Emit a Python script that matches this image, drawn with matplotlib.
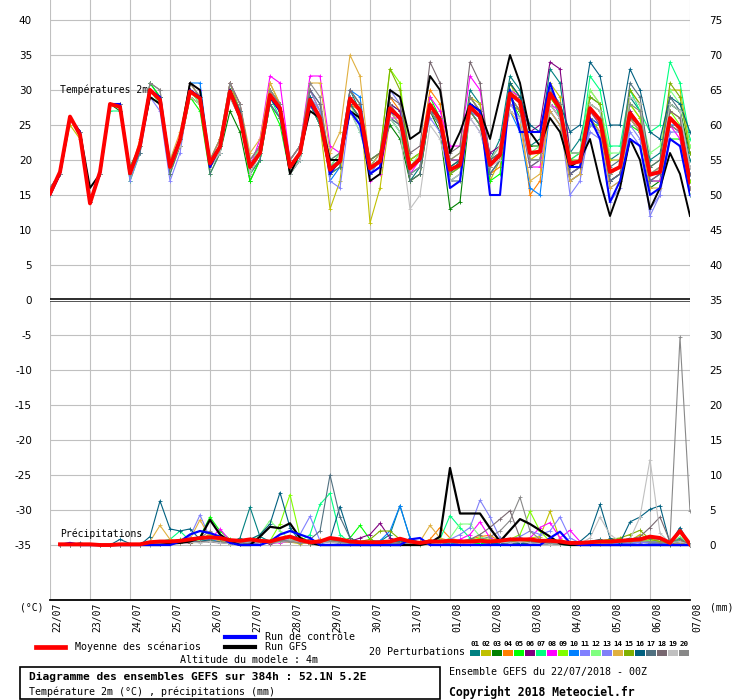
import numpy as np
import matplotlib
matplotlib.use('Agg')
import matplotlib.pyplot as plt
from matplotlib.patches import Rectangle
from matplotlib.lines import Line2D
from matplotlib.transforms import ScaledTranslation

# ---------------- data ----------------
hours = list(range(0, 385, 6))            # 65 steps, temperature
precip_hours = list(range(6, 385, 6))     # 64 steps, precipitation
day_hours = list(range(0, 385, 24))
day_labels = ['22/07', '23/07', '24/07', '25/07', '26/07', '27/07', '28/07', '29/07', '30/07',
              '31/07', '01/08', '02/08', '03/08', '04/08', '05/08', '06/08', '07/08']

member_names = ['01', '02', '03', '04', '05', '06', '07', '08', '09', '10',
                '11', '12', '13', '14', '15', '16', '17', '18', '19', '20']
member_colors = ['#008080', '#c0c000', '#008000', '#ff8000', '#00ff00', '#800080', '#00ff80',
                 '#ff00ff', '#80ff00', '#0080ff', '#8080ff', '#80ff80', '#8080f8', '#e0b040',
                 '#80b000', '#006080', '#507080', '#786870', '#c0c0c0', '#888888']

temp_mean = [15.2, 18.3, 26.2, 23.6, 13.8, 18.3, 28.0, 27.6, 18.1, 22.1, 30.0, 28.6, 19.0, 22.9, 29.8, 28.8,
             19.5, 21.9, 29.8, 26.2, 19.0, 21.0, 29.3, 27.4, 19.0, 21.0, 28.6, 26.0, 18.6, 19.8, 28.8, 27.1,
             18.8, 19.8, 27.4, 26.0, 18.8, 20.2, 27.9, 25.7, 18.6, 19.3, 27.6, 26.2, 19.3, 20.7, 29.5, 28.3,
             21.0, 21.2, 29.5, 27.4, 19.5, 19.8, 27.4, 25.7, 18.3, 19.0, 26.7, 24.8, 17.9, 18.3, 26.0, 24.5,
             16.8]
temp_control = [15, 18, 26, 24, 14, 18, 28, 28, 18, 22, 30, 29, 19, 23, 30, 29, 19, 22, 30, 26, 19, 21, 29, 27,
                19, 21, 28, 26, 18, 20, 27, 25, 18, 19, 27, 26, 19, 20, 28, 26, 16, 17, 28, 27, 15, 15, 30, 24,
                24, 24, 31, 27, 19, 19, 26, 23, 14, 17, 23, 22, 15, 16, 23, 22, 15]
temp_gfs = [15, 18, 26, 24, 16, 18, 28, 28, 18, 22, 29, 28, 19, 23, 31, 30, 19, 22, 30, 26, 19, 21, 29, 27,
            18, 21, 27, 26, 20, 20, 27, 26, 17, 18, 30, 29, 23, 24, 32, 30, 21, 24, 28, 27, 23, 29, 35, 31,
            24, 22, 26, 24, 19, 20, 23, 17, 12, 16, 23, 20, 13, 16, 21, 18, 12]

temp_m01 = [15, 18, 26, 24, 14, 18, 28, 28, 18, 22, 31, 29, 20, 23, 29, 28, 19, 22, 31, 27, 19, 22, 30, 28, 20, 22, 28, 25, 19, 21, 30, 27, 18, 20, 28, 27, 17, 19, 27, 26, 18, 20, 30, 28, 20, 23, 32, 30, 22, 23, 33, 31, 21, 23, 29, 28, 20, 21, 29, 27, 20, 21, 28, 27, 20]
temp_m02 = [16, 18, 25, 23, 14, 18, 28, 28, 18, 22, 30, 28, 19, 22, 30, 29, 20, 23, 31, 27, 19, 21, 31, 28, 18, 20, 29, 25, 13, 17, 30, 28, 11, 16, 26, 25, 17, 18, 27, 25, 20, 21, 29, 28, 17, 20, 31, 28, 20, 21, 31, 29, 18, 19, 30, 28, 20, 20, 30, 28, 18, 19, 30, 30, 22]
temp_m03 = [15, 18, 26, 24, 14, 18, 28, 27, 19, 22, 29, 28, 19, 22, 29, 28, 19, 21, 27, 24, 17, 20, 28, 26, 19, 21, 28, 25, 18, 20, 28, 26, 20, 21, 25, 23, 17, 18, 27, 24, 13, 14, 27, 25, 18, 20, 29, 27, 22, 22, 30, 26, 17, 18, 26, 24, 17, 18, 26, 24, 16, 17, 28, 27, 21]
temp_m04 = [16, 18, 26, 24, 14, 18, 28, 28, 18, 23, 30, 29, 19, 23, 31, 29, 20, 23, 30, 27, 20, 22, 30, 28, 19, 21, 30, 27, 18, 20, 28, 27, 19, 20, 29, 27, 20, 21, 30, 28, 19, 20, 27, 25, 18, 19, 28, 27, 15, 17, 28, 26, 20, 21, 27, 26, 18, 19, 28, 26, 17, 18, 25, 24, 16]
temp_m05 = [16, 18, 26, 24, 14, 18, 28, 28, 17, 21, 31, 29, 19, 22, 29, 27, 18, 21, 30, 27, 17, 20, 28, 25, 18, 20, 29, 26, 18, 19, 28, 26, 20, 21, 26, 24, 18, 19, 29, 26, 17, 18, 27, 25, 17, 18, 29, 26, 20, 20, 29, 27, 18, 19, 25, 25, 17, 18, 25, 24, 17, 17, 23, 23, 15]
temp_m06 = [16, 18, 26, 24, 14, 18, 28, 28, 18, 22, 30, 29, 19, 23, 30, 29, 20, 22, 30, 27, 19, 21, 29, 27, 19, 21, 28, 26, 19, 20, 29, 27, 19, 20, 28, 27, 20, 21, 28, 26, 20, 20, 29, 27, 21, 22, 31, 29, 24, 25, 34, 33, 21, 21, 26, 25, 17, 18, 27, 25, 18, 18, 25, 24, 17]
temp_m07 = [15, 18, 26, 24, 14, 18, 27, 27, 19, 22, 30, 28, 19, 22, 30, 28, 19, 21, 29, 26, 18, 20, 29, 26, 19, 20, 28, 25, 20, 21, 27, 24, 19, 20, 26, 24, 19, 20, 27, 25, 18, 19, 27, 25, 19, 21, 30, 28, 21, 21, 30, 26, 20, 21, 32, 30, 22, 22, 30, 27, 24, 25, 34, 31, 23]
temp_m08 = [16, 18, 26, 24, 14, 18, 28, 28, 18, 22, 30, 29, 19, 23, 31, 30, 20, 22, 31, 28, 19, 23, 32, 31, 20, 22, 32, 32, 22, 21, 29, 27, 17, 18, 26, 26, 18, 20, 29, 27, 22, 22, 32, 30, 20, 22, 30, 29, 19, 19, 28, 27, 18, 19, 27, 25, 18, 19, 26, 24, 17, 17, 25, 23, 16]
temp_m09 = [15, 18, 26, 24, 14, 18, 28, 28, 18, 22, 30, 29, 18, 22, 29, 28, 19, 22, 30, 26, 19, 21, 29, 27, 18, 21, 28, 26, 18, 20, 30, 28, 19, 21, 33, 31, 20, 21, 28, 25, 18, 19, 28, 26, 19, 21, 31, 29, 21, 21, 29, 27, 19, 20, 28, 27, 18, 19, 28, 26, 18, 19, 27, 25, 17]
temp_m10 = [15, 18, 26, 24, 14, 18, 28, 28, 18, 22, 30, 29, 19, 23, 31, 31, 20, 22, 30, 27, 19, 21, 29, 27, 19, 21, 30, 28, 17, 19, 30, 29, 19, 21, 27, 25, 19, 20, 28, 26, 19, 20, 27, 26, 20, 21, 27, 24, 16, 15, 27, 25, 18, 19, 26, 25, 17, 18, 26, 24, 17, 18, 25, 25, 18]
temp_m11 = [16, 18, 26, 24, 14, 18, 28, 28, 17, 21, 29, 27, 17, 21, 30, 29, 20, 22, 29, 26, 19, 21, 28, 26, 18, 20, 30, 27, 17, 16, 27, 26, 18, 19, 26, 25, 19, 20, 26, 24, 18, 19, 26, 24, 19, 21, 29, 27, 20, 20, 28, 26, 15, 17, 25, 24, 16, 17, 24, 22, 13, 15, 23, 22, 15]
temp_m12 = [15, 18, 26, 24, 14, 18, 28, 28, 18, 22, 30, 28, 19, 23, 30, 28, 19, 22, 30, 27, 19, 22, 30, 28, 19, 21, 29, 27, 19, 21, 28, 25, 20, 21, 27, 26, 19, 21, 28, 26, 19, 20, 28, 26, 20, 22, 30, 28, 21, 22, 30, 28, 21, 21, 30, 28, 21, 21, 28, 27, 21, 22, 30, 28, 22]
temp_m13 = [16, 18, 26, 24, 14, 18, 28, 28, 18, 22, 29, 28, 19, 22, 30, 29, 19, 21, 29, 27, 19, 21, 29, 27, 19, 21, 29, 27, 18, 20, 30, 28, 18, 20, 30, 28, 18, 19, 27, 25, 17, 18, 27, 26, 18, 20, 28, 26, 19, 20, 27, 25, 17, 18, 24, 23, 14, 16, 25, 23, 12, 15, 24, 24, 16]
temp_m14 = [16, 18, 26, 24, 14, 18, 28, 28, 18, 22, 30, 29, 20, 24, 31, 29, 20, 23, 31, 28, 21, 23, 31, 28, 20, 22, 31, 31, 21, 24, 35, 32, 19, 21, 27, 25, 19, 20, 28, 25, 19, 20, 27, 25, 20, 21, 27, 25, 17, 18, 27, 25, 17, 18, 26, 24, 16, 17, 26, 24, 16, 16, 27, 26, 16]
temp_m15 = [15, 18, 26, 24, 14, 18, 28, 28, 18, 22, 30, 29, 19, 22, 29, 28, 19, 22, 29, 26, 18, 21, 29, 27, 19, 21, 28, 26, 19, 20, 29, 27, 20, 21, 33, 30, 19, 20, 28, 26, 18, 19, 29, 27, 19, 21, 29, 27, 21, 21, 29, 27, 20, 20, 29, 28, 18, 19, 30, 28, 19, 20, 31, 29, 21]
temp_m16 = [15, 18, 26, 24, 14, 18, 28, 28, 18, 22, 30, 29, 19, 23, 30, 29, 19, 22, 30, 27, 19, 21, 29, 27, 19, 21, 29, 26, 19, 20, 28, 26, 19, 20, 27, 26, 19, 20, 27, 25, 19, 20, 28, 26, 20, 21, 31, 29, 25, 24, 30, 28, 24, 25, 34, 32, 25, 25, 33, 30, 24, 23, 29, 28, 24]
temp_m17 = [15, 18, 26, 24, 14, 18, 28, 28, 18, 21, 30, 29, 18, 22, 30, 29, 18, 21, 29, 26, 18, 20, 28, 26, 18, 20, 28, 25, 18, 19, 28, 26, 18, 19, 26, 25, 17, 18, 27, 25, 17, 17, 27, 25, 18, 20, 29, 27, 20, 20, 30, 28, 19, 20, 28, 27, 19, 20, 31, 29, 19, 20, 29, 27, 19]
temp_m18 = [16, 18, 26, 24, 14, 18, 28, 28, 18, 22, 31, 30, 19, 23, 30, 29, 20, 22, 31, 28, 20, 22, 30, 28, 20, 22, 30, 28, 20, 21, 30, 28, 20, 21, 29, 28, 21, 22, 34, 31, 21, 22, 34, 31, 20, 21, 29, 27, 19, 20, 28, 26, 18, 19, 27, 25, 17, 18, 26, 25, 17, 18, 27, 26, 18]
temp_m19 = [15, 18, 26, 24, 14, 18, 28, 28, 18, 22, 29, 28, 19, 22, 29, 28, 19, 21, 29, 26, 18, 21, 29, 27, 18, 20, 28, 26, 19, 20, 27, 24, 19, 20, 26, 24, 13, 15, 25, 23, 17, 18, 26, 24, 19, 20, 27, 26, 20, 20, 28, 26, 19, 20, 28, 27, 18, 19, 29, 28, 18, 19, 28, 27, 19]
temp_m20 = [16, 18, 26, 24, 14, 18, 28, 28, 18, 22, 31, 30, 19, 23, 31, 29, 20, 23, 31, 28, 20, 22, 30, 28, 20, 22, 31, 29, 19, 20, 29, 27, 19, 20, 28, 26, 18, 19, 27, 25, 20, 21, 29, 27, 19, 21, 29, 27, 20, 20, 30, 28, 19, 20, 27, 26, 18, 19, 28, 27, 18, 19, 25, 24, 16]

# precipitation in mm (6h), steps 06h .. 384h
precip_mean = [0.1, 0.1, 0.1, 0.1, 0, 0, 0.1, 0.1, 0.1, 0.4, 0.5, 0.5, 0.6, 0.8, 1.0, 1.1,
               1.0, 0.7, 0.6, 0.8, 0.6, 0.5, 0.9, 1.2, 0.7, 0.4, 0.5, 1.0, 0.8, 0.5, 0.4, 0.4,
               0.4, 0.5, 0.9, 0.5, 0.3, 0.5, 0.5, 0.6, 0.5, 0.5, 0.6, 0.5, 0.6, 0.8, 0.8, 0.8,
               0.6, 0.6, 0.5, 0.3, 0.3, 0.4, 0.5, 0.5, 0.6, 0.7, 0.8, 1.2, 1.0, 0.3, 2.0, 0.1]
precip_control = [0, 0.3, 0, 0, 0, 0, 0, 0, 0, 0, 0, 0, 0.5, 1.5, 2.0, 1.7,
                  1.2, 0.3, 0, 0, 0, 0.5, 1.5, 2.0, 1.5, 1.0, 0, 0, 0, 0, 0, 0,
                  0, 0, 0, 0.8, 1.0, 0, 0, 0, 0, 0, 0, 0, 0, 0, 0, 0,
                  0, 1.0, 1.9, 0.3, 0, 0, 0, 0, 0, 0, 0, 0, 0, 0, 0, 0]
precip_gfs = [0, 0, 0, 0, 0, 0, 0, 0, 0, 0, 0, 0.2, 0.3, 0.5, 1.0, 3.6,
              1.5, 0.5, 0, 0, 1.2, 2.6, 2.4, 3.1, 1.0, 0.3, 0, 0, 0, 0, 0, 0,
              0, 0, 0, 0, 0, 0.3, 1.2, 11.0, 4.5, 4.5, 4.5, 2.4, 0.5, 2.1, 3.7, 3.0,
              2.1, 1.2, 0.2, 0, 0, 0, 0, 0, 0, 0, 0, 0, 0, 0, 0, 0]

precip_m01 = [0, 0, 0, 0, 0, 0, 0, 0, 0, 0.3, 0.5, 0.3, 0.5, 0.8, 0.4, 0.6, 0.5, 0.3, 1.0, 5.4, 1.2, 0.5, 0.8, 0.5, 0.3, 0.2, 0.5, 0.8, 0.3, 0.2, 0.1, 0.2, 0.5, 1.5, 5.6, 1.0, 0.2, 0.3, 0, 0.2, 0.3, 0.2, 0.5, 0.3, 0.2, 0.5, 0.3, 0.2, 0.3, 0.2, 0.1, 0, 0.2, 0.5, 0.8, 0.3, 0.5, 1.0, 0.6, 0.4, 0.5, 0.2, 1.0, 0]
precip_m02 = [0, 0, 0, 0, 0, 0, 0, 0, 0, 0.1, 0.2, 0.3, 0.5, 0.3, 0.6, 0.8, 0.4, 0.2, 0.3, 0.5, 0.3, 0.5, 0.6, 0.4, 0.2, 0.3, 0.4, 0.6, 0.3, 0.2, 0.3, 0.4, 0.5, 0.3, 0.2, 0.1, 0, 0.2, 0.4, 0.3, 0.2, 0.5, 0.6, 0.3, 0.4, 0.5, 0.8, 1.0, 1.2, 4.8, 0.8, 0.2, 0.1, 0.2, 0.3, 0.5, 0.4, 0.6, 1.5, 0.8, 0.3, 0.1, 0.5, 0]
precip_m03 = [0, 0, 0, 0, 0, 0, 0, 0, 0, 0.2, 0.3, 0.4, 0.4, 0.6, 0.8, 1.0, 0.8, 0.4, 0.3, 0.5, 0.4, 0.3, 0.7, 1.2, 0.5, 0.2, 0.3, 0.5, 0.6, 0.3, 0.2, 0.1, 0.2, 0.3, 0.5, 0.2, 0.1, 0.2, 0.3, 0.6, 0.5, 0.4, 0.3, 0.5, 1.0, 0.6, 0.4, 0.3, 0.2, 0.3, 0.1, 0, 0.1, 0.3, 0.5, 0.4, 0.6, 0.5, 0.4, 0.3, 0.2, 0, 0.3, 0]
precip_m04 = [0, 0, 0, 0, 0, 0, 0, 0, 0, 0.2, 0.4, 0.3, 0.3, 0.5, 0.8, 1.5, 0.6, 0.3, 0.2, 0.4, 0.3, 0.4, 0.5, 0.6, 0.4, 0.3, 0.8, 0.5, 0.3, 0.2, 0.3, 0.4, 0.2, 0.3, 0.4, 0.3, 0.2, 0.8, 2.5, 1.0, 0.6, 0.8, 1.2, 1.4, 0.5, 0.3, 0.4, 0.2, 0.3, 0.4, 0.2, 0.1, 0.2, 0.1, 0.3, 0.2, 0.3, 0.4, 0.6, 1.0, 0.5, 0.2, 0.4, 0]
precip_m05 = [0, 0, 0, 0, 0, 0, 0, 0, 0, 0.1, 0.3, 0.5, 0.8, 0.6, 1.2, 4.0, 2.0, 0.8, 0.4, 0.5, 0.3, 0.4, 0.6, 0.5, 0.3, 0.2, 0.4, 0.6, 0.5, 1.0, 2.8, 0.8, 0.3, 0.2, 0.4, 0.3, 0.2, 0.3, 0.2, 0.5, 0.4, 0.3, 0.2, 0.3, 0.2, 0.3, 0.5, 0.4, 0.2, 0.3, 0.2, 0.1, 0.2, 0.3, 0.5, 0.4, 0.3, 0.5, 0.8, 0.6, 0.5, 0.1, 0.6, 0]
precip_m06 = [0, 0, 0, 0, 0, 0, 0, 0, 0, 0.1, 0.2, 0.3, 0.3, 0.5, 0.6, 0.5, 0.8, 0.5, 0.3, 0.2, 0.3, 0.2, 0.4, 0.6, 0.3, 0.2, 0.3, 0.5, 0.3, 0.5, 1.0, 1.5, 3.1, 1.0, 0.5, 0.3, 0.2, 0.1, 0.2, 0.3, 0.2, 0.3, 0.4, 0.2, 0.3, 0.2, 0.4, 0.3, 0.2, 0.1, 0.2, 0.1, 0.1, 0.2, 0.3, 0.2, 0.2, 0.3, 0.4, 0.5, 0.3, 0.1, 0.2, 0]
precip_m07 = [0, 0, 0, 0, 0, 0, 0, 0, 0, 0.2, 0.5, 0.8, 2.0, 0.6, 0.4, 0.8, 0.5, 0.3, 0.4, 0.3, 0.2, 0.5, 0.6, 0.4, 0.5, 1.5, 5.8, 7.4, 1.5, 0.3, 0.2, 0.4, 0.3, 0.2, 0.3, 0.2, 0.1, 0.3, 0.8, 4.2, 2.5, 1.0, 0.6, 0.4, 0.3, 0.2, 0.5, 0.4, 0.3, 0.2, 0.1, 0, 0.1, 0.2, 0.4, 0.3, 0.4, 0.3, 0.5, 0.6, 0.4, 0.2, 0.8, 0]
precip_m08 = [0, 0, 0, 0, 0, 0, 0, 0, 0, 0.1, 0.2, 0.3, 0.4, 0.3, 0.5, 0.8, 2.3, 0.6, 0.3, 0.2, 0.2, 0.4, 0.3, 0.5, 1.0, 0.4, 0.3, 0.6, 0.3, 0.2, 0.3, 0.2, 0.2, 0.4, 0.3, 0.2, 0.1, 0.2, 0.5, 0.3, 0.8, 1.5, 3.3, 1.0, 0.5, 0.3, 0.6, 1.0, 2.5, 3.2, 1.0, 2.1, 0.5, 0.3, 0.2, 0.3, 0.4, 0.3, 0.5, 0.4, 0.3, 0.1, 0.6, 0]
precip_m09 = [0, 0, 0, 0, 0, 0, 0, 0, 0, 0.1, 0.2, 0.4, 0.3, 0.5, 0.8, 1.5, 0.8, 0.4, 0.3, 0.2, 0.3, 0.6, 3.0, 7.2, 1.2, 0.3, 0.5, 0.4, 0.3, 0.2, 0.3, 0.2, 0.2, 0.3, 0.4, 0.2, 0.1, 0.2, 0.3, 0.5, 0.4, 0.6, 1.0, 0.8, 0.6, 0.8, 1.5, 4.8, 2.0, 0.5, 0.2, 0.1, 0.2, 0.3, 0.2, 0.3, 0.4, 0.5, 0.8, 0.5, 0.3, 0.1, 0.4, 0]
precip_m10 = [0, 0, 0, 0, 0, 0, 0, 0, 0, 0, 0.2, 0.3, 0.4, 0.6, 0.5, 0.8, 0.5, 0.3, 0.2, 0.4, 0.3, 0.5, 0.8, 0.6, 0.4, 0.3, 0.2, 0.5, 0.3, 0.2, 0.3, 0.5, 0.6, 2.0, 5.6, 1.0, 0.3, 0.2, 0.3, 0.2, 0.3, 0.2, 0.4, 0.3, 0.2, 0.3, 0.4, 0.6, 0.5, 0.3, 0.2, 0.1, 0.1, 0.2, 0.3, 0.2, 0.3, 0.2, 0.4, 0.5, 0.3, 0.1, 0.3, 0]
precip_m11 = [0, 0, 0, 0, 0, 0, 0, 0, 0, 0.1, 0.3, 0.2, 0.4, 0.5, 0.6, 0.5, 0.3, 0.4, 0.2, 0.3, 0.2, 0.4, 0.5, 0.8, 1.5, 4.1, 0.6, 0.4, 0.3, 0.2, 0.3, 0.4, 0.3, 0.2, 0.4, 0.3, 0.2, 0.3, 0.2, 0.4, 0.3, 0.4, 0.6, 0.5, 0.4, 0.8, 1.2, 2.0, 1.5, 2.0, 4.0, 1.0, 0.3, 0.2, 0.3, 0.2, 0.3, 0.4, 0.3, 0.5, 0.4, 0.1, 0.3, 0]
precip_m12 = [0, 0, 0, 0, 0, 0, 0, 0, 0, 0.2, 0.3, 0.2, 0.4, 0.8, 0.6, 0.5, 0.4, 0.3, 0.5, 0.6, 1.5, 3.5, 2.0, 0.8, 0.4, 0.3, 0.5, 0.6, 0.4, 0.3, 0.2, 0.3, 0.2, 0.3, 0.4, 0.3, 0.2, 0.3, 0.4, 1.0, 3.0, 3.0, 1.2, 0.6, 0.4, 0.5, 0.6, 0.4, 0.3, 0.2, 0.2, 0.1, 0.2, 0.4, 0.6, 0.8, 0.6, 0.5, 0.4, 0.6, 0.8, 0.2, 1.2, 0]
precip_m13 = [0, 0, 0, 0, 0, 0, 0, 0, 0, 0.2, 0.3, 0.2, 0.4, 1.2, 4.3, 1.0, 0.5, 0.3, 0.2, 0.3, 0.2, 0.3, 0.4, 0.5, 0.3, 0.2, 0.5, 0.4, 0.3, 0.2, 0.3, 0.2, 0.2, 0.3, 0.2, 0.3, 0.2, 0.1, 0.3, 0.8, 1.5, 2.5, 6.4, 4.0, 1.0, 0.5, 0.6, 0.8, 0.5, 0.4, 0.3, 0.2, 0.1, 0.2, 0.3, 0.2, 0.3, 0.2, 0.4, 0.3, 0.2, 0.1, 0.3, 0]
precip_m14 = [0, 0, 0, 0, 0, 0, 0, 0, 0, 0.5, 2.8, 0.8, 0.5, 0.8, 3.6, 1.0, 0.6, 0.3, 0.2, 0.3, 0.4, 0.3, 0.5, 0.4, 0.3, 0.2, 0.4, 0.5, 0.3, 0.2, 0.3, 0.2, 0.2, 0.3, 0.4, 0.3, 0.5, 2.8, 1.0, 0.6, 0.5, 0.4, 0.8, 0.6, 0.4, 0.3, 0.5, 0.4, 0.3, 0.2, 0.3, 0.1, 0.2, 0.3, 0.2, 0.3, 0.4, 0.5, 0.6, 0.8, 0.5, 0.2, 0.3, 0]
precip_m15 = [0, 0, 0, 0, 0, 0, 0, 0, 0, 0.1, 0.2, 0.3, 0.5, 0.3, 0.4, 0.6, 0.4, 0.2, 0.3, 0.5, 0.4, 0.3, 0.5, 0.6, 0.5, 0.3, 0.4, 0.6, 0.4, 0.3, 0.5, 0.8, 2.0, 2.0, 0.8, 0.4, 0.2, 0.3, 0.2, 0.4, 0.3, 0.2, 0.4, 0.5, 0.3, 0.4, 0.6, 0.5, 0.4, 0.3, 0.2, 0.1, 0.3, 0.4, 0.6, 0.8, 1.0, 1.5, 2.1, 0.8, 0.5, 0.2, 0.6, 0]
precip_m16 = [0, 0, 0.3, 0, 0, 0, 0.8, 0.2, 0, 1.2, 6.3, 2.3, 2.0, 2.3, 0.8, 0.5, 0.4, 0.3, 0.5, 0.8, 1.5, 3.0, 7.5, 2.5, 0.5, 0.3, 0.4, 0.8, 5.5, 1.0, 0.3, 0.2, 0.3, 0.4, 0.6, 0.3, 0.2, 0.3, 0.2, 0.4, 0.3, 0.4, 0.5, 0.3, 0.2, 0.3, 0.2, 0.3, 0.2, 0.1, 0.2, 0.3, 0.5, 1.7, 5.8, 1.0, 0.3, 3.3, 4.0, 5.1, 5.6, 0.2, 2.5, 0]
precip_m17 = [0, 0, 0, 0, 0, 0, 0, 0, 0, 0.1, 0.3, 0.2, 0.3, 0.5, 0.4, 0.6, 0.4, 0.3, 0.2, 0.3, 0.4, 0.3, 0.5, 0.6, 0.5, 0.8, 2.0, 10.0, 4.0, 1.0, 0.3, 0.2, 0.3, 0.2, 0.4, 0.3, 0.2, 0.3, 0.2, 0.3, 0.2, 0.3, 0.4, 0.5, 0.3, 0.2, 0.4, 0.3, 0.2, 0.3, 0.2, 0.1, 0.2, 0.3, 0.5, 0.4, 0.5, 0.6, 0.8, 1.0, 0.8, 0.2, 0.5, 0]
precip_m18 = [0, 0, 0, 0, 0, 0, 0, 0, 0, 0.1, 0.2, 0.3, 0.4, 0.3, 0.5, 0.4, 0.3, 0.2, 0.4, 0.3, 0.3, 0.4, 0.5, 0.6, 0.4, 0.3, 0.5, 0.8, 0.5, 0.3, 0.2, 0.3, 0.2, 0.3, 0.4, 0.2, 0.3, 0.2, 0.4, 0.6, 0.5, 0.8, 1.5, 2.5, 3.7, 4.9, 1.0, 0.5, 0.3, 0.2, 0.1, 0.2, 0.2, 0.3, 0.4, 0.5, 0.6, 0.8, 1.2, 2.5, 4.0, 0.5, 0.8, 0]
precip_m19 = [0, 0, 0, 0, 0, 0, 0, 0, 0, 0, 0.1, 0.2, 0.3, 0.4, 0.3, 0.5, 0.3, 0.2, 0.3, 0.4, 0.3, 0.5, 0.4, 0.6, 0.5, 0.4, 0.3, 0.5, 0.3, 0.2, 0.3, 0.2, 0.2, 0.3, 0.2, 0.3, 0.2, 0.1, 0.3, 0.4, 0.3, 0.2, 0.5, 0.6, 0.4, 0.3, 0.5, 0.3, 0.2, 0.1, 0.2, 0.1, 0.2, 1.0, 4.0, 1.5, 0.5, 0.8, 4.0, 12.2, 1.7, 0.3, 0.5, 0]
precip_m20 = [0, 0, 0, 0, 0, 0, 0, 0, 0, 0.1, 0.3, 0.4, 0.5, 0.8, 1.0, 2.0, 0.8, 0.4, 0.3, 0.5, 0.4, 0.3, 0.6, 0.5, 0.3, 0.4, 0.5, 0.6, 0.4, 0.3, 0.2, 0.3, 0.2, 0.3, 0.2, 0.4, 0.3, 0.2, 0.4, 0.5, 0.4, 0.6, 0.8, 1.2, 2.0, 3.5, 6.8, 2.0, 0.8, 0.4, 0.2, 0.1, 0.2, 0.3, 0.4, 0.3, 0.4, 0.5, 0.6, 0.5, 0.3, 0.7, 29.7, 4.8]

temp_members = [temp_m01, temp_m02, temp_m03, temp_m04, temp_m05, temp_m06, temp_m07, temp_m08, temp_m09, temp_m10,
                temp_m11, temp_m12, temp_m13, temp_m14, temp_m15, temp_m16, temp_m17, temp_m18, temp_m19, temp_m20]
precip_members = [precip_m01, precip_m02, precip_m03, precip_m04, precip_m05, precip_m06, precip_m07, precip_m08,
                  precip_m09, precip_m10, precip_m11, precip_m12, precip_m13, precip_m14, precip_m15, precip_m16,
                  precip_m17, precip_m18, precip_m19, precip_m20]

PRECIP_OFFSET = -35   # precipitation drawn on the lower panel: 0 mm at -35 on the left scale

# ---------------- figure ----------------
W, H = 740, 700
fig = plt.figure(figsize=(W / 100, H / 100), dpi=100)
fig.patch.set_facecolor('white')
ax = fig.add_axes([50 / W, 1 - 600 / H, 640 / W, 600 / H])
ylo, yhi = -42.857, 42.857
ax.set_xlim(0, 384)
ax.set_ylim(ylo, yhi)

mono = 'DejaVu Sans Mono'

def fx(x):
    return x / W

def fy(y):
    return 1 - y / H

# grid
ax.set_yticks(list(range(-35, 41, 5)))
ax.set_yticklabels([str(v) for v in range(-35, 41, 5)], fontsize=7.5, family='DejaVu Sans')
ax.set_xticks(day_hours)
ax.set_xticklabels(day_labels, rotation=90, fontsize=7, family=mono)
ax.tick_params(axis='y', length=0, pad=13)
ax.tick_params(axis='x', length=0, pad=2)
for lab in ax.get_xticklabels():
    lab.set_transform(lab.get_transform() + ScaledTranslation(7 / 100, 0, fig.dpi_scale_trans))
ax.grid(True, color='#c0c0c0', lw=0.8, zorder=0)
ax.set_axisbelow(True)
for s in ['top', 'right', 'left']:
    ax.spines[s].set_visible(False)
ax.spines['bottom'].set_color('black')
ax.spines['bottom'].set_linewidth(1.3)

# right axis (offset scale)
ax2 = ax.twinx()
ax2.set_ylim(ylo + 35, yhi + 35)
ax2.set_yticks(list(range(0, 76, 5)))
ax2.set_yticklabels([str(v) for v in range(0, 76, 5)], fontsize=7.5, family='DejaVu Sans')
ax2.tick_params(axis='y', length=0, pad=14)
for s in ['top', 'right', 'left', 'bottom']:
    ax2.spines[s].set_visible(False)

# double zero line
ax.axhline(0, color='black', lw=2.6, zorder=1)
ax.axhline(0, color='white', lw=1.0, zorder=1.1)

# section labels
ax.text(6, 30, 'Températures 2m', fontsize=7, family=mono, va='center', ha='left', zorder=1.5)
ax.text(6, -33.4, 'Précipitations', fontsize=7, family=mono, va='center', ha='left', zorder=1.5)

# members
for vals, col in zip(temp_members, member_colors):
    ax.plot(hours, vals, color=col, lw=0.8, marker='+', ms=2.5, mew=0.6, zorder=2)
for vals, col in zip(precip_members, member_colors):
    ax.plot(precip_hours, [v + PRECIP_OFFSET for v in vals], color=col, lw=0.8, marker='+', ms=2.5,
            mew=0.6, zorder=2)

# GFS, control, mean
ax.plot(hours, temp_gfs, color='black', lw=1.4, zorder=3)
ax.plot(precip_hours, [v + PRECIP_OFFSET for v in precip_gfs], color='black', lw=1.6, zorder=3)
ax.plot(hours, temp_control, color='#0000ff', lw=1.5, zorder=4)
ax.plot(precip_hours, [v + PRECIP_OFFSET for v in precip_control], color='#0000ff', lw=1.6, zorder=4)
ax.plot(hours, temp_mean, color='#ff0000', lw=2.8, zorder=5)
ax.plot(precip_hours, [v + PRECIP_OFFSET for v in precip_mean], color='#ff0000', lw=2.8, zorder=5)

# unit labels
fig.text(fx(20), fy(607), '(°C)', fontsize=7, family=mono, va='center', ha='left')
fig.text(fx(710), fy(607), '(mm)', fontsize=7, family=mono, va='center', ha='left')

# legend
fig.add_artist(Line2D([fx(36), fx(65)], [fy(647), fy(647)], color='#ff0000', lw=3.4,
                      transform=fig.transFigure))
fig.text(fx(75), fy(647), 'Moyenne des scénarios', fontsize=7.2, family=mono, va='center', ha='left')
fig.add_artist(Line2D([fx(225), fx(255)], [fy(637), fy(637)], color='#0000ff', lw=3.0,
                      transform=fig.transFigure))
fig.text(fx(265), fy(637), 'Run de contrôle', fontsize=7.2, family=mono, va='center', ha='left')
fig.add_artist(Line2D([fx(225), fx(255)], [fy(647), fy(647)], color='black', lw=3.0,
                      transform=fig.transFigure))
fig.text(fx(265), fy(647), 'Run GFS', fontsize=7.2, family=mono, va='center', ha='left')
fig.text(fx(180), fy(660), 'Altitude du modele : 4m', fontsize=7.2, family=mono, va='center', ha='left')
fig.text(fx(369), fy(652), '20 Perturbations', fontsize=7.2, family=mono, va='center', ha='left')

for k, (name, col) in enumerate(zip(member_names, member_colors)):
    x0 = 470 + 11 * k
    fig.add_artist(Rectangle((fx(x0), fy(655.5)), 10 / W, 5.5 / H, facecolor=col, edgecolor='none',
                             transform=fig.transFigure))
    fig.text(fx(x0 + 5), fy(644), name, fontsize=5.4, family=mono, weight='bold', va='center',
             ha='center')

fig.add_artist(Rectangle((fx(20), fy(699)), 420 / W, 32 / H, fill=False, edgecolor='black', lw=1.2,
                         transform=fig.transFigure))
fig.text(fx(29), fy(677), 'Diagramme des ensembles GEFS sur 384h : 52.1N 5.2E', fontsize=8.1,
         family=mono, weight='bold', va='center', ha='left')
fig.text(fx(29), fy(692), 'Température 2m (°C) , précipitations (mm)', fontsize=7.2, family=mono,
         va='center', ha='left')
fig.text(fx(449), fy(672), 'Ensemble GEFS du 22/07/2018 - 00Z', fontsize=7.2, family=mono,
         va='center', ha='left')
fig.text(fx(449), fy(692), 'Copyright 2018 Meteociel.fr', fontsize=8.3, family=mono, weight='bold',
         va='center', ha='left')

fig.savefig('out.png', dpi=100, facecolor='white')
